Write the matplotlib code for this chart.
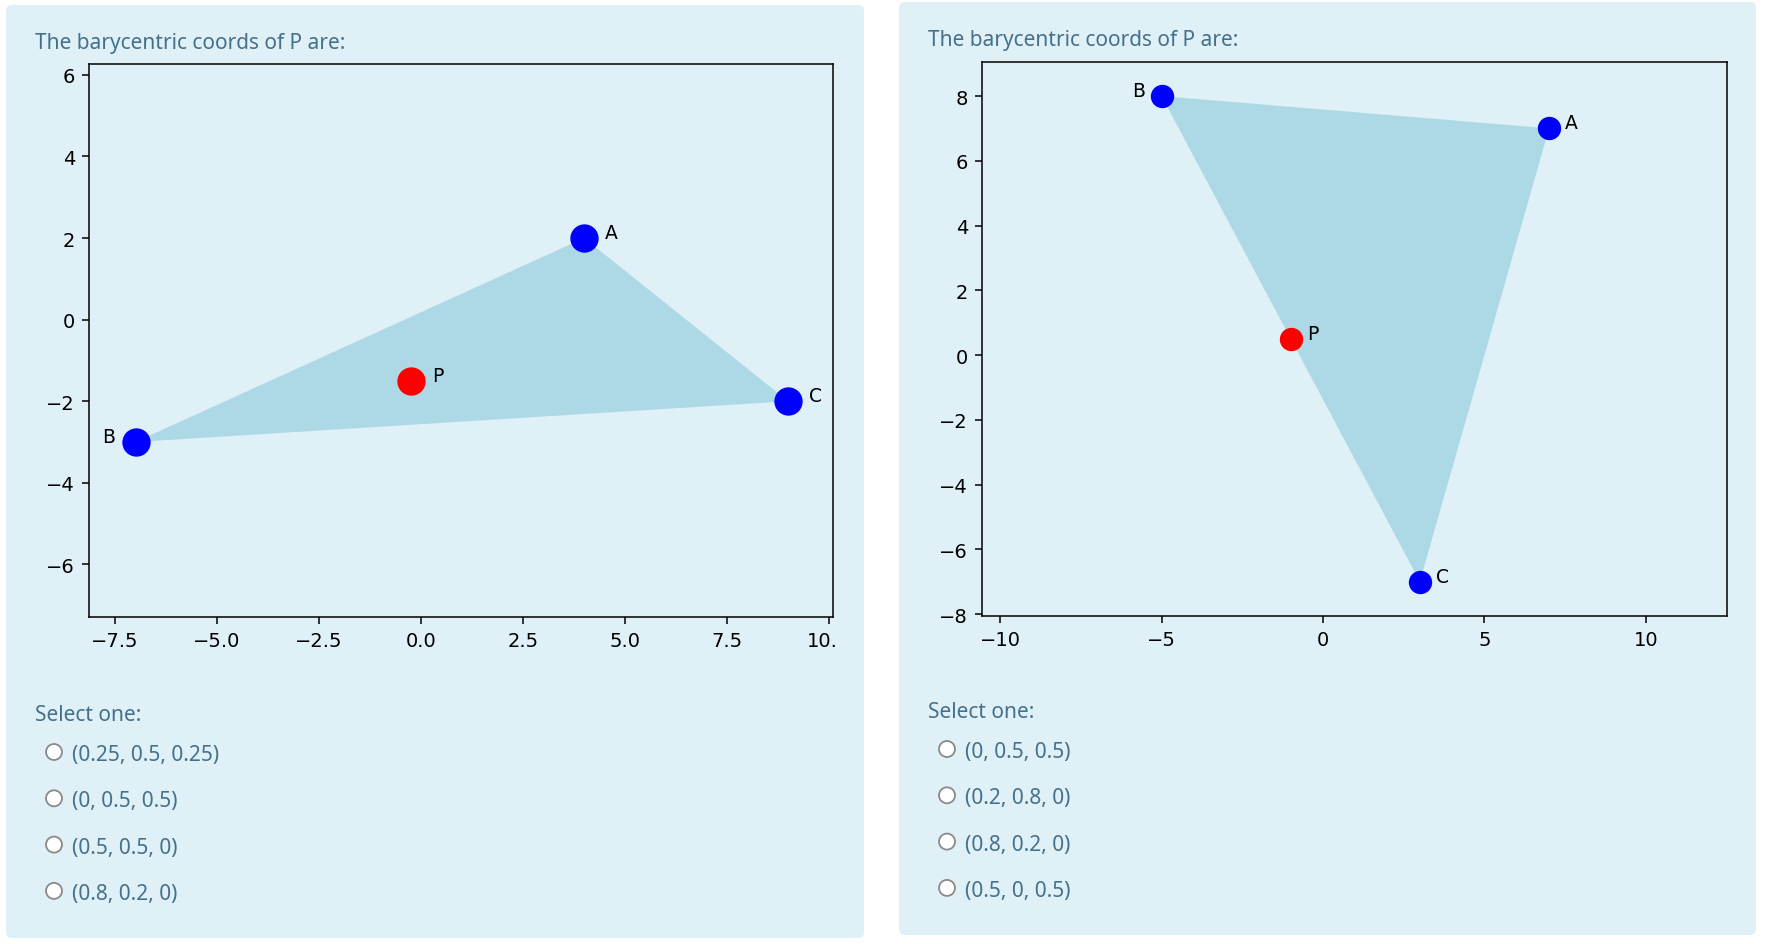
import matplotlib
matplotlib.use("Agg")
import matplotlib.pyplot as plt
import matplotlib.patches as mpatches
from matplotlib.transforms import Bbox

W, H = 1766, 945

vertex_names = ["A", "B", "C"]

# left question
left_x = [4, -7, 9]
left_y = [2, -3, -2]
left_p = (-0.25, -1.5)
left_xticks = [-7.5, -5.0, -2.5, 0.0, 2.5, 5.0, 7.5, 10.0]
left_yticks = [-6, -4, -2, 0, 2, 4, 6]
left_choices = ["(0.25, 0.5, 0.25)", "(0, 0.5, 0.5)", "(0.5, 0.5, 0)", "(0.8, 0.2, 0)"]

# right question
right_x = [7, -5, 3]
right_y = [7, 8, -7]
right_p = (-1, 0.5)
right_xticks = [-10, -5, 0, 5, 10]
right_yticks = [-8, -6, -4, -2, 0, 2, 4, 6, 8]
right_choices = ["(0, 0.5, 0.5)", "(0.2, 0.8, 0)", "(0.8, 0.2, 0)", "(0.5, 0, 0.5)"]

PANEL = "#dff1f7"
TEXT = "#44708c"
PAGE_FONT = "Noto Sans"

fig = plt.figure(figsize=(W / 100, H / 100), dpi=100)
fig.patch.set_facecolor("white")
page = fig.add_axes([0, 0, 1, 1], zorder=0)
page.set_xlim(0, W)
page.set_ylim(H, 0)
page.axis("off")


def question(box, ax_box, xs, ys, p, xlim, ylim, xticks, yticks, ms, dx, choices, clip_x=None):
    x0, y0, x1, y1 = box
    page.add_patch(mpatches.FancyBboxPatch((x0, y0), x1 - x0, y1 - y0,
                                           boxstyle="round,pad=0,rounding_size=6",
                                           fc=PANEL, ec="none"))
    page.text(x0 + 29, y0 + 43, "The barycentric coords of P are:", family=PAGE_FONT,
              fontsize=15, color=TEXT, va="baseline")
    page.text(x0 + 29, y0 + 715, "Select one:", family=PAGE_FONT,
              fontsize=15, color=TEXT, va="baseline")
    for i, choice in enumerate(choices):
        yb = y0 + 755 + i * 46.3
        page.add_patch(mpatches.Circle((x0 + 48, yb - 8), 8, fc="white", ec="#8a8a8a", lw=1.3))
        page.text(x0 + 66, yb, choice, family=PAGE_FONT, fontsize=15, color=TEXT, va="baseline")

    l, t, r, b = ax_box
    ax = fig.add_axes([l / W, 1 - b / H, (r - l) / W, (b - t) / H], zorder=1)
    ax.patch.set_visible(False)
    ax.fill(xs, ys, color="lightblue", lw=0, zorder=1)
    ax.plot(xs, ys, "o", ls="none", color="blue", ms=ms, zorder=3)
    ax.plot([p[0]], [p[1]], "o", color="red", ms=ms, zorder=3)
    for name, x, y in zip(vertex_names + ["P"], xs + [p[0]], ys + [p[1]]):
        side = -1 if name == "B" else 1
        ax.annotate(name, (x, y), xytext=(side * dx, 4), textcoords="offset points",
                    ha="right" if side < 0 else "left", va="center", fontsize=13.5)
    ax.set_xlim(*xlim)
    ax.set_ylim(*ylim)
    ax.set_xticks(xticks)
    ax.set_yticks(yticks)
    ax.tick_params(labelsize=14, length=5, width=1.1, pad=5)
    for s in ax.spines.values():
        s.set_linewidth(1.1)
    if clip_x is not None:
        clip = Bbox.from_extents(0, 0, clip_x, H)
        for tick in ax.xaxis.get_major_ticks():
            tick.label1.set_clip_box(clip)
            tick.label1.set_clip_on(True)
    return ax


question((6, 6, 864, 939), (89, 64.5, 833, 618), left_x, left_y, left_p,
         (-8.14, 10.1), (-7.29, 6.28), left_xticks, left_yticks,
         19.4, 15, left_choices, clip_x=837)
question((899, 3, 1756, 936), (982, 62.7, 1727, 617), right_x, right_y, right_p,
         (-10.56, 12.51), (-8.06, 9.06), right_xticks, right_yticks,
         15.8, 11.5, right_choices)

fig.savefig("out.png", dpi=100)
